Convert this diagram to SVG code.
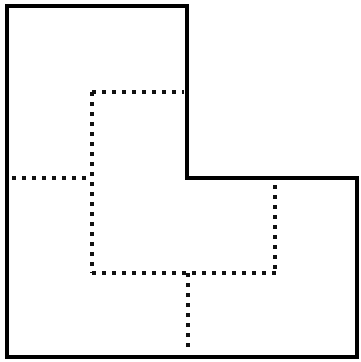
<svg xmlns="http://www.w3.org/2000/svg" width="361" height="362" viewBox="0 0 361 362">
<style>
.outer{fill:none;stroke:#000;stroke-width:4;stroke-linejoin:miter}
.dot{fill:none;stroke:#111;stroke-width:4;stroke-dasharray:4 6}
</style>
<rect width="361" height="362" fill="#fff"/>
<g id="outline">
<path class="outer" d="M7,6 L187,6 L187,178 L357,178 L357,357 L7,357 Z"/>
</g>
<g id="connectors">
<path class="dot" d="M92,92 L184,92"/>
<path class="dot" d="M92,92 L92,273"/>
<path class="dot" d="M12,178 L92,178"/>
<path class="dot" d="M92,273 L277,273"/>
<path class="dot" d="M275,185 L275,273"/>
<path class="dot" d="M188,273 L188,352"/>
</g>
</svg>
